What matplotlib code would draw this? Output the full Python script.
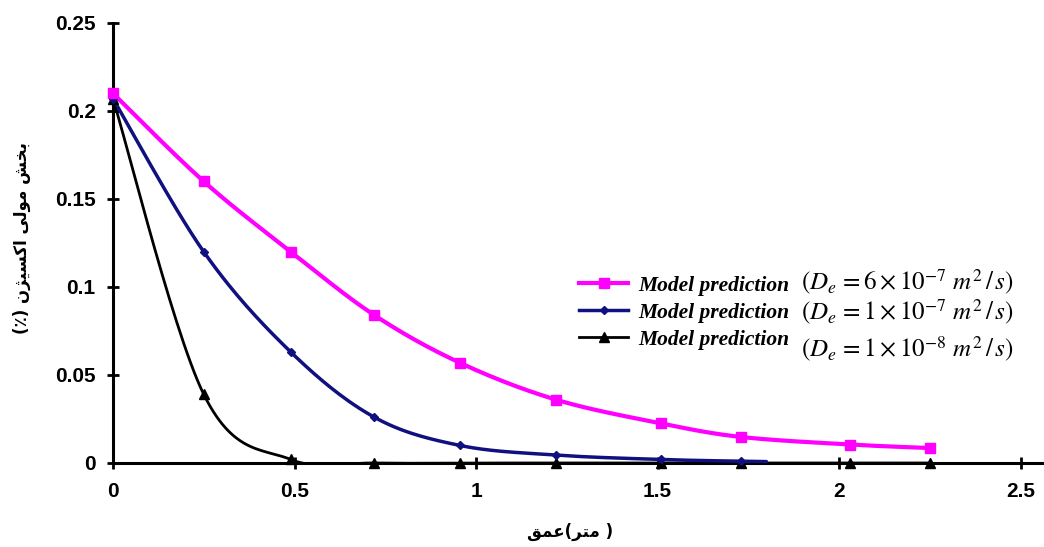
import numpy as np
import matplotlib
matplotlib.use("Agg")
import matplotlib.pyplot as plt
from matplotlib import font_manager, ft2font
from matplotlib.font_manager import FontProperties
from matplotlib.lines import Line2D

# ---------------- data ----------------
x_pink = [0, 0.25, 0.49, 0.72, 0.955, 1.22, 1.51, 1.73, 2.03, 2.25]
y_pink = [0.210, 0.160, 0.120, 0.084, 0.057, 0.036, 0.0225, 0.0148, 0.0105, 0.0085]

x_blue = [0, 0.25, 0.49, 0.72, 0.955, 1.22, 1.51, 1.73, 1.80]
y_blue = [0.207, 0.120, 0.063, 0.026, 0.010, 0.0045, 0.002, 0.001, 0.0008]
blue_markers = 8  # last point has no marker

x_black = [0, 0.25, 0.49, 0.72, 0.955, 1.22, 1.51, 1.73, 2.03, 2.25]
y_black = [0.207, 0.039, 0.002, 0.0, 0.0, 0.0, 0.0, 0.0, 0.0, 0.0]

x_ticks = [0, 0.5, 1, 1.5, 2, 2.5]
x_ticklabels = ["0", "0.5", "1", "1.5", "2", "2.5"]
y_ticks = [0, 0.05, 0.1, 0.15, 0.2, 0.25]
y_ticklabels = ["0", "0.05", "0.1", "0.15", "0.2", "0.25"]

legend_label = "Model prediction"
legend_math = [r"$(D_e\,=6\times10^{-7}\ m^2\,/\,s)$",
               r"$(D_e\,=1\times10^{-7}\ m^2\,/\,s)$",
               r"$(D_e\,=1\times10^{-8}\ m^2\,/\,s)$"]

# ---------------- Arabic shaping (visual order, presentation forms) ----------------
ar_path = font_manager.findfont(FontProperties(family="DejaVu Sans", weight="bold"))
cmap = ft2font.FT2Font(ar_path).get_charmap()
fallback = {0xFB90: 0xFEDB, 0xFB8B: 0xFEAE, 0x066A: ord('%'), 0xFEF0: 0xFEF2}

def vis(codes):
    out = []
    for c in codes:
        if isinstance(c, str):
            out.append(c)
            continue
        if c not in cmap and c in fallback:
            c = fallback[c]
        out.append(chr(c))
    return "".join(out)

# x label: عمق(متر)
xlabel = vis([0xFED6, 0xFEE4, 0xFECB, "(", 0xFEAE, 0xFE98, 0xFEE3, " )"])
# y label: بخش مولی اکسیژن (٪)  -> visual LTR
ylabel = vis(["(", 0x066A, ") ",
              0xFEE5, 0xFB8B, 0xFEF4, 0xFEB4, 0xFB90, 0xFE8D, " ",
              0xFEF0, 0xFEDF, 0xFEEE, 0xFEE3, " ",
              0xFEB6, 0xFEA8, 0xFE91])

# ---------------- smoothing (Excel-like Catmull-Rom) ----------------
def smooth(xs, ys, n=30):
    xs = np.asarray(xs, float); ys = np.asarray(ys, float)
    P = np.column_stack([xs, ys])
    out = [P[0]]
    for i in range(len(P) - 1):
        p0 = P[i - 1] if i > 0 else P[i]
        p1 = P[i]; p2 = P[i + 1]
        p3 = P[i + 2] if i + 2 < len(P) else P[i + 1]
        c1 = p1 + (p2 - p0) / 6.0
        c2 = p2 - (p3 - p1) / 6.0
        t = np.linspace(0, 1, n)[1:, None]
        B = ((1 - t) ** 3) * p1 + 3 * ((1 - t) ** 2) * t * c1 + 3 * (1 - t) * t ** 2 * c2 + t ** 3 * p2
        out.extend(B)
    out = np.array(out)
    return out[:, 0], out[:, 1]

# ---------------- figure ----------------
W, H = 1044, 547
fig = plt.figure(figsize=(W / 100, H / 100), dpi=100)
ax = fig.add_axes([113 / W, 84 / H, (W - 113) / W, 440 / H])

pink = "#FF00FF"
navy = "#101080"

series = [
    (x_black, y_black, len(x_black), "black", "^", 7, 2.0),
    (x_blue, y_blue, blue_markers, navy, "D", 4.5, 2.5),
    (x_pink, y_pink, len(x_pink), pink, "s", 7, 3.0),
]
handles = {}
for xs, ys, nm, col, mk, ms, lw in series:
    sx, sy = smooth(xs, ys)
    ax.plot(sx, sy, color=col, lw=lw, solid_capstyle="round", zorder=3)
    ax.plot(xs[:nm], ys[:nm], linestyle="none", marker=mk, ms=ms, color=col, zorder=4, clip_on=False)
    handles[col] = Line2D([], [], color=col, lw=lw, marker=mk, ms=ms)

ax.set_xlim(0, (W - 113) / 363.0)
ax.set_ylim(0, 0.25)
ax.set_xticks(x_ticks)
ax.set_xticklabels(x_ticklabels)
ax.set_yticks(y_ticks)
ax.set_yticklabels(y_ticklabels)

for s in ["top", "right"]:
    ax.spines[s].set_visible(False)
for s in ["left", "bottom"]:
    ax.spines[s].set_linewidth(2.2)
    ax.spines[s].set_color("black")
ax.tick_params(direction="inout", length=9, width=2, pad=6)
tick_font = FontProperties(family="Liberation Sans", weight="bold", size=15)
for lab in ax.get_xticklabels() + ax.get_yticklabels():
    lab.set_fontproperties(tick_font)
ax.tick_params(axis="y", pad=8)
ax.tick_params(axis="x", pad=9)

ar_font = FontProperties(family="DejaVu Sans", weight="bold", size=12)
fig.text(570 / W, 1 - 532 / H, xlabel, fontproperties=ar_font, ha="center", va="center")
fig.text(22 / W, 1 - 238 / H, ylabel, fontproperties=ar_font, ha="center", va="center", rotation=90)

# legend
leg_font = FontProperties(family="Liberation Serif", weight="bold", style="italic", size=15.5)
leg = ax.legend([handles[pink], handles[navy], handles["black"]], [legend_label] * 3,
                loc="upper left", bbox_to_anchor=(568 / W, 1 - 265 / H),
                bbox_transform=fig.transFigure, frameon=False, prop=leg_font,
                handlelength=2.3, handletextpad=0.45, labelspacing=0.32, borderpad=0)

math_y = [282, 312, 349]
for txt, yy in zip(legend_math, math_y):
    fig.text(801 / W, 1 - yy / H, txt, fontsize=18, ha="left", va="center",
             math_fontfamily="stix")

fig.savefig("out.png", dpi=100)
